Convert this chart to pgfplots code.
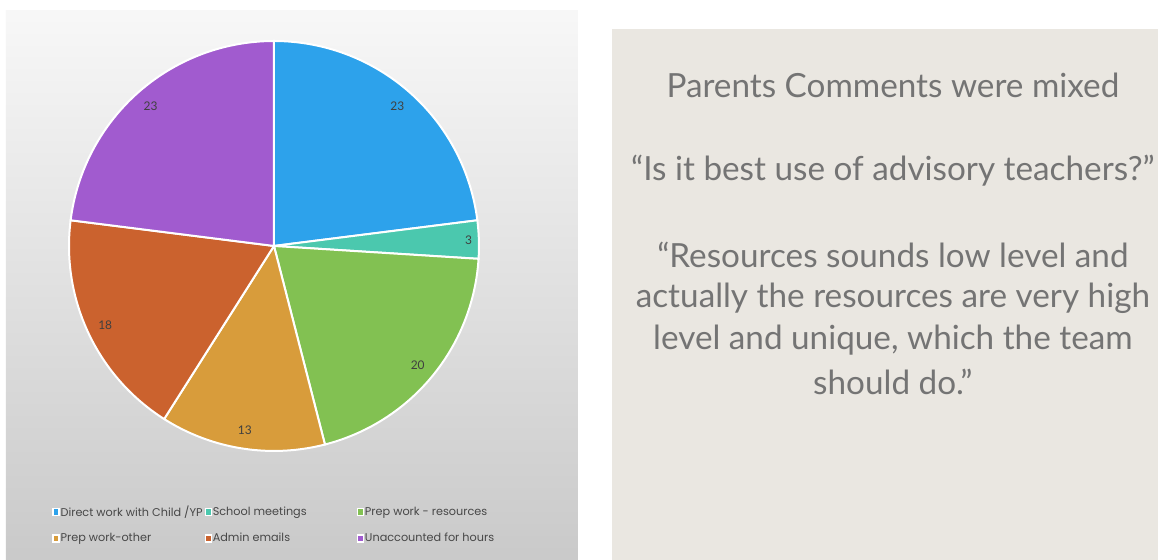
\documentclass[border=0pt]{standalone}
\usepackage{fontspec}
\setmainfont{Lato}
\newfontfamily\legfont{Poppins}
\usepackage{pgfplots}
\usepackage{pgfplotstable}
\pgfplotsset{compat=1.18}
\definecolor{cA}{HTML}{2DA2EB}
\definecolor{cB}{HTML}{4BC8AE}
\definecolor{cC}{HTML}{82C152}
\definecolor{cD}{HTML}{D89C3B}
\definecolor{cE}{HTML}{CB622E}
\definecolor{cF}{HTML}{A15BCF}
\definecolor{txt}{HTML}{747474}
\definecolor{panel}{HTML}{EAE7E1}
\pgfplotstableread{
label value
A 23
B 3
C 20
D 13
E 18
F 23
}\piedata
\begin{document}
\begin{tikzpicture}[x=1bp,y=1bp]
\fill[white] (0,0) rectangle (1158,560);
\shade[top color=white!97!black, bottom color=white!79!black] (6,0) rectangle (578,549);
\fill[panel] (612,0) rectangle (1158,531);
\begin{scope}[font=\fontsize{33.4}{40}\selectfont, text=txt]
\node at (893,475) {Parents Comments were mixed};
\node at (893,389) {“Is it best use of advisory teachers?”};
\node at (893,305) {“Resources sounds low level and};
\node at (893,262) {actually the resources are very high};
\node at (893,220) {level and unique, which the team};
\node at (893,178) {should do.”};
\end{scope}
\pgfplotstablegetelem{0}{value}\of\piedata \let\vA\pgfplotsretval
\pgfplotstablegetelem{1}{value}\of\piedata \let\vB\pgfplotsretval
\pgfplotstablegetelem{2}{value}\of\piedata \let\vC\pgfplotsretval
\pgfplotstablegetelem{3}{value}\of\piedata \let\vD\pgfplotsretval
\pgfplotstablegetelem{4}{value}\of\piedata \let\vE\pgfplotsretval
\pgfplotstablegetelem{5}{value}\of\piedata \let\vF\pgfplotsretval
\pgfmathsetmacro\sA{90}
\pgfmathsetmacro\sB{\sA-3.6*\vA}
\pgfmathsetmacro\sC{\sB-3.6*\vB}
\pgfmathsetmacro\sD{\sC-3.6*\vC}
\pgfmathsetmacro\sE{\sD-3.6*\vD}
\pgfmathsetmacro\sF{\sE-3.6*\vE}
\pgfmathsetmacro\sG{\sF-3.6*\vF}
\begin{axis}[
  at={(274bp,314bp)}, anchor=center,
  width=410bp, height=410bp, scale only axis,
  xmin=-1, xmax=1, ymin=-1, ymax=1,
  hide axis, clip=false,
  every axis plot/.append style={draw=white, line width=2bp, samples=80},
  legend columns=3,
  legend cell align=left,
  legend image code/.code={\path[#1, line width=1.2bp] (0bp,-3.5bp) rectangle (6bp,3.5bp);},
  legend style={at={(-0.041,-0.132)}, anchor=north west, draw=none, fill=none,
    font=\legfont\fontsize{11.3}{13}\selectfont, text=black!72, row sep=13bp,
    inner sep=0pt, nodes={inner sep=1bp}},
]
\addplot[fill=cA, domain=\sB:\sA] ({cos(x)},{sin(x)}) -- (axis cs:0,0) -- cycle;
\addlegendentry{\makebox[143bp][l]{Direct work with Child /YP}}
\addplot[fill=cB, domain=\sC:\sB] ({cos(x)},{sin(x)}) -- (axis cs:0,0) -- cycle;
\addlegendentry{\makebox[143bp][l]{School meetings}}
\addplot[fill=cC, domain=\sD:\sC] ({cos(x)},{sin(x)}) -- (axis cs:0,0) -- cycle;
\addlegendentry{\makebox[143bp][l]{Prep work - resources}}
\addplot[fill=cD, domain=\sE:\sD] ({cos(x)},{sin(x)}) -- (axis cs:0,0) -- cycle;
\addlegendentry{\makebox[143bp][l]{Prep work-other}}
\addplot[fill=cE, domain=\sF:\sE] ({cos(x)},{sin(x)}) -- (axis cs:0,0) -- cycle;
\addlegendentry{\makebox[143bp][l]{Admin emails}}
\addplot[fill=cF, domain=\sG:\sF] ({cos(x)},{sin(x)}) -- (axis cs:0,0) -- cycle;
\addlegendentry{\makebox[143bp][l]{Unaccounted for hours}}
\begin{scope}[font=\fontsize{12}{14}\selectfont, text=black!75]
\node at (axis cs:{0.91*cos((\sA+\sB)/2)},{0.91*sin((\sA+\sB)/2)}) {\vA};
\node at (axis cs:{0.95*cos((\sB+\sC)/2)},{0.95*sin((\sB+\sC)/2)}) {\vB};
\node at (axis cs:{0.91*cos((\sC+\sD)/2)},{0.91*sin((\sC+\sD)/2)}) {\vC};
\node at (axis cs:{0.91*cos((\sD+\sE)/2)},{0.91*sin((\sD+\sE)/2)}) {\vD};
\node at (axis cs:{0.91*cos((\sE+\sF)/2)},{0.91*sin((\sE+\sF)/2)}) {\vE};
\node at (axis cs:{0.91*cos((\sF+\sG)/2)},{0.91*sin((\sF+\sG)/2)}) {\vF};
\end{scope}
\end{axis}
\end{tikzpicture}
\end{document}
